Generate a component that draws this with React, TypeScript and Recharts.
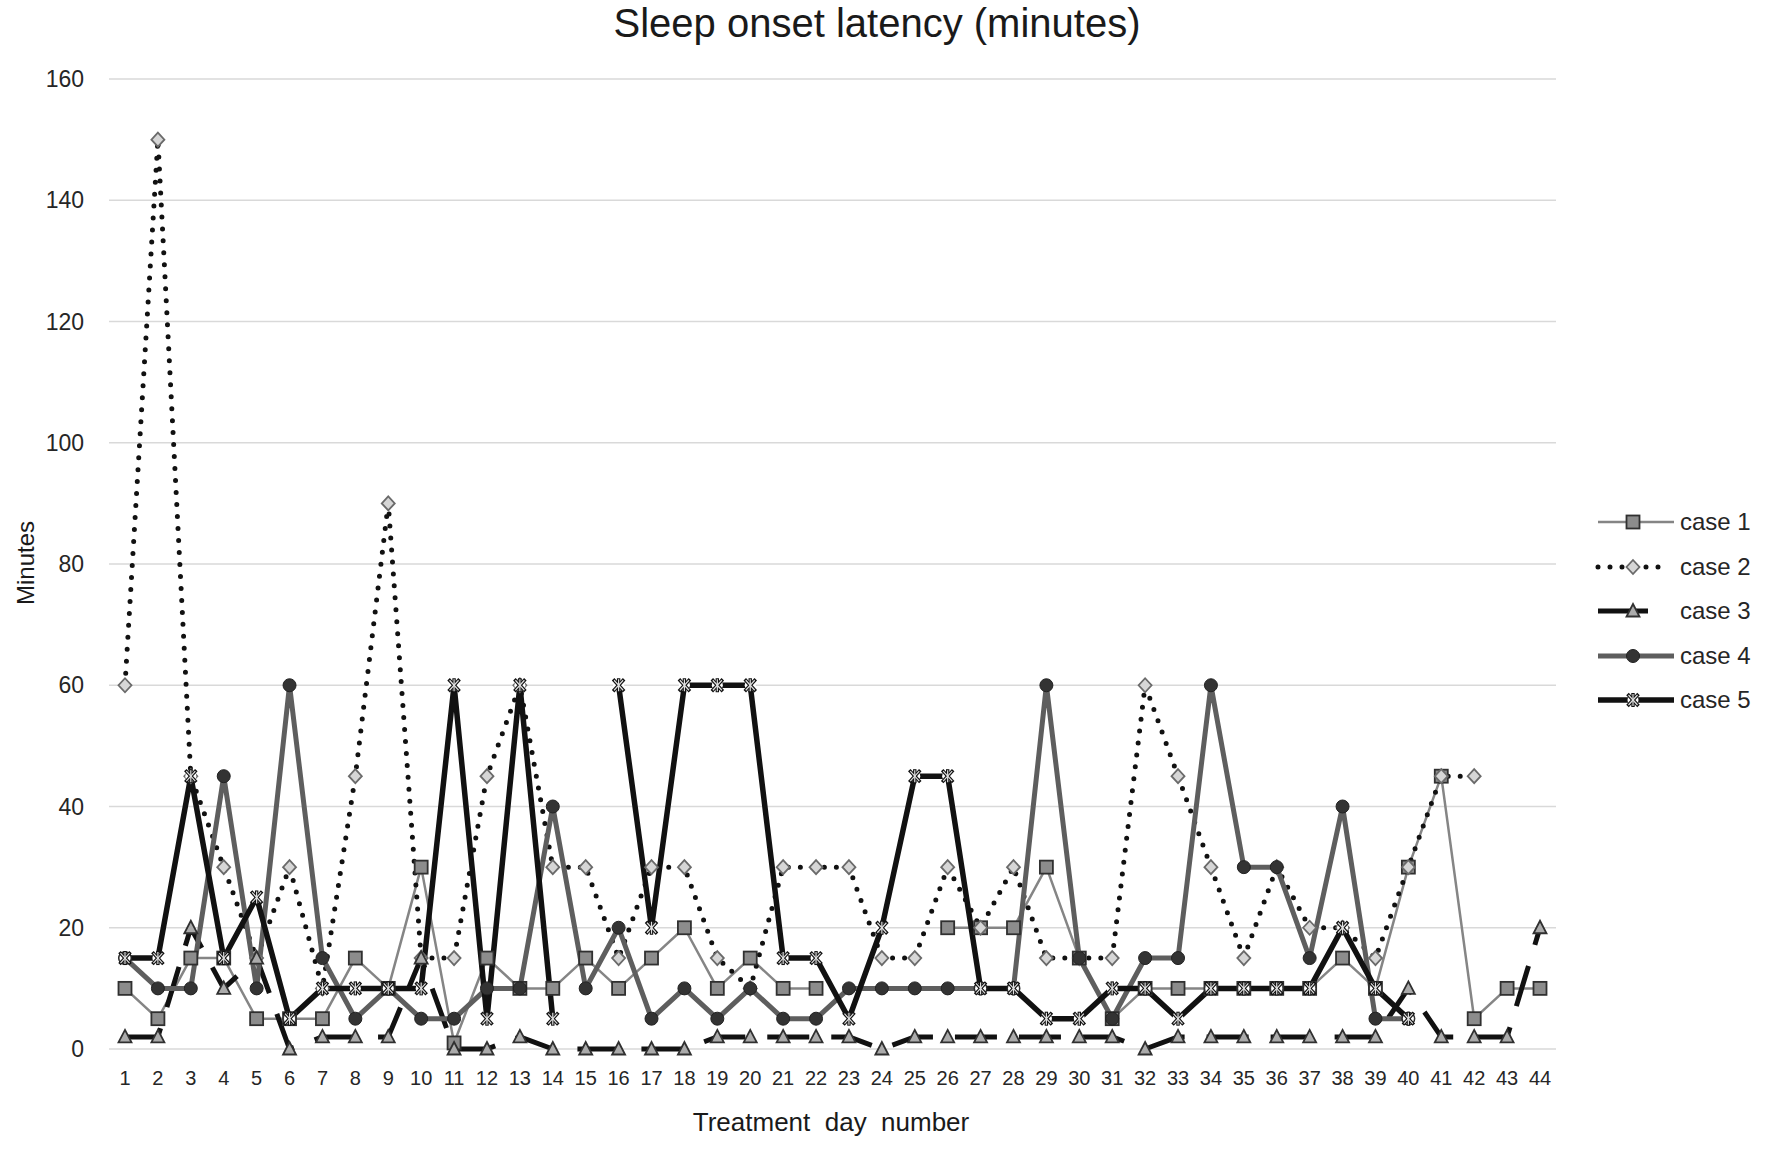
import React from 'react';
import { LineChart, Line, XAxis, YAxis, CartesianGrid, Legend, Customized } from 'recharts';

const FONT = '"Liberation Sans", Arial, sans-serif';

const days = [1, 2, 3, 4, 5, 6, 7, 8, 9, 10, 11, 12, 13, 14, 15, 16, 17, 18, 19, 20, 21, 22, 23, 24, 25, 26, 27, 28, 29, 30, 31, 32, 33, 34, 35, 36, 37, 38, 39, 40, 41, 42, 43, 44];

const case1 = [10, 5, 15, 15, 5, 5, 5, 15, 10, 30, 1, 15, 10, 10, 15, 10, 15, 20, 10, 15, 10, 10, null, null, null, 20, 20, 20, 30, 15, 5, 10, 10, 10, 10, 10, 10, 15, 10, 30, 45, 5, 10, 10];
const case2 = [60, 150, 45, 30, 15, 30, 10, 45, 90, 15, 15, 45, 60, 30, 30, 15, 30, 30, 15, 10, 30, 30, 30, 15, 15, 30, 20, 30, 15, 15, 15, 60, 45, 30, 15, 30, 20, 20, 15, 30, 45, 45, null, null];
const case3 = [2, 2, 20, 10, 15, 0, 2, 2, 2, 15, 0, 0, 2, 0, 0, 0, 0, 0, 2, 2, 2, 2, 2, 0, 2, 2, 2, 2, 2, 2, 2, 0, 2, 2, 2, 2, 2, 2, 2, 10, 2, 2, 2, 20];
const case4 = [15, 10, 10, 45, 10, 60, 15, 5, 10, 5, 5, 10, 10, 40, 10, 20, 5, 10, 5, 10, 5, 5, 10, 10, 10, 10, 10, 10, 60, 15, 5, 15, 15, 60, 30, 30, 15, 40, 5, 5, null, null, null, null];
const case5 = [15, 15, 45, 15, 25, 5, 10, 10, 10, 10, 60, 5, 60, 5, null, 60, 20, 60, 60, 60, 15, 15, 5, 20, 45, 45, 10, 10, 5, 5, 10, 10, 5, 10, 10, 10, 10, 20, 10, 5, null, null, null, null];

const yTicks = [0, 20, 40, 60, 80, 100, 120, 140, 160];

const data = days.map((day, i) => ({
  day,
  case1: case1[i],
  case2: case2[i],
  case3: case3[i],
  case4: case4[i],
  case5: case5[i],
}));

type MarkerKind = 'square' | 'diamond' | 'triangle' | 'circle' | 'star';

const SERIES: {
  key: string;
  name: string;
  stroke: string;
  width: number;
  dash?: string;
  cap?: 'round' | 'butt';
  marker: MarkerKind;
  legendLen: number;
}[] = [
  { key: 'case1', name: 'case 1', stroke: '#858585', width: 2.5, marker: 'square', legendLen: 76 },
  { key: 'case2', name: 'case 2', stroke: '#111', width: 5, dash: '0 12', cap: 'round', marker: 'diamond', legendLen: 70 },
  { key: 'case3', name: 'case 3', stroke: '#111', width: 5, dash: '42 22', marker: 'triangle', legendLen: 50 },
  { key: 'case4', name: 'case 4', stroke: '#5e5e5e', width: 5, marker: 'circle', legendLen: 76 },
  { key: 'case5', name: 'case 5', stroke: '#111', width: 5.5, marker: 'star', legendLen: 76 },
];

function marker(kind: MarkerKind, cx: number, cy: number) {
  switch (kind) {
    case 'square':
      return <rect x={cx - 6.5} y={cy - 6.5} width={13} height={13} fill="#8c8c8c" stroke="#303030" strokeWidth={1.8} />;
    case 'diamond':
      return (
        <path
          d={`M${cx},${cy - 7} L${cx + 6.5},${cy} L${cx},${cy + 7} L${cx - 6.5},${cy} Z`}
          fill="#d6d6d6"
          stroke="#6a6a6a"
          strokeWidth={1.8}
        />
      );
    case 'triangle':
      return (
        <path
          d={`M${cx},${cy - 7} L${cx + 6.5},${cy + 5.5} L${cx - 6.5},${cy + 5.5} Z`}
          fill="#ababab"
          stroke="#303030"
          strokeWidth={1.8}
        />
      );
    case 'circle':
      return <circle cx={cx} cy={cy} r={6.5} fill="#333" stroke="#222" strokeWidth={1} />;
    case 'star':
      return (
        <g>
          <circle cx={cx} cy={cy} r={5.5} fill="#fff" />
          <g stroke="#111" strokeWidth={3.4}>
            <line x1={cx - 5.5} y1={cy - 6} x2={cx + 5.5} y2={cy + 6} />
            <line x1={cx - 5.5} y1={cy + 6} x2={cx + 5.5} y2={cy - 6} />
            <line x1={cx} y1={cy - 7} x2={cx} y2={cy + 7} />
          </g>
          <g stroke="#e0e0e0" strokeWidth={1.2}>
            <line x1={cx - 4.5} y1={cy - 5} x2={cx + 4.5} y2={cy + 5} />
            <line x1={cx - 4.5} y1={cy + 5} x2={cx + 4.5} y2={cy - 5} />
            <line x1={cx} y1={cy - 6} x2={cx} y2={cy + 6} />
          </g>
        </g>
      );
  }
}

function makeDot(kind: MarkerKind) {
  return function Dot(props: any) {
    const { cx, cy, index, value } = props;
    if (cx == null || cy == null || value == null) return <g key={`${kind}-${index}`} />;
    return <g key={`${kind}-${index}`}>{marker(kind, cx, cy)}</g>;
  };
}

function LegendContent() {
  return (
    <div style={{ fontFamily: FONT, fontSize: 24, color: '#262626' }}>
      {SERIES.map((s) => (
        <div key={s.key} style={{ display: 'flex', alignItems: 'center', height: 44.5 }}>
          <svg width={88} height={30} style={{ flex: 'none' }}>
            <line
              x1={8}
              x2={8 + s.legendLen}
              y1={15}
              y2={15}
              stroke={s.stroke}
              strokeWidth={s.width}
              strokeDasharray={s.marker === 'diamond' ? s.dash : undefined}
              strokeLinecap={s.cap}
            />
            {marker(s.marker, 43, 15)}
          </svg>
          <span style={{ marginLeft: 2, whiteSpace: 'nowrap' }}>{s.name}</span>
        </div>
      ))}
    </div>
  );
}

function Titles() {
  return (
    <g fontFamily={FONT} fill="#1a1a1a">
      <text x={877} y={37} fontSize={40} textAnchor="middle">
        Sleep onset latency (minutes)
      </text>
      <text x={831} y={1131} fontSize={26} textAnchor="middle" style={{ whiteSpace: 'pre' }}>
        {'Treatment  day  number'}
      </text>
      <text
        x={25}
        y={563}
        fontSize={24}
        textAnchor="middle"
        dominantBaseline="central"
        transform="rotate(-90 25 563)"
      >
        Minutes
      </text>
    </g>
  );
}

export default function App() {
  return (
    <div style={{ position: 'absolute', left: 0, top: 0, width: 1765, height: 1154, background: '#fff' }}>
      <LineChart width={1765} height={1154} data={data} margin={{ top: 79, right: 34, bottom: 45, left: 0 }}>
        <CartesianGrid vertical={false} stroke="#d9d9d9" strokeWidth={1.5} />
        <XAxis
          dataKey="day"
          type="category"
          height={60}
          padding={{ left: 16, right: 16 }}
          axisLine={false}
          tickLine={false}
          tickSize={0}
          tickMargin={22}
          interval={0}
          tick={{ fontSize: 20, fill: '#262626', fontFamily: FONT }}
        />
        <YAxis
          width={109}
          domain={[0, 160]}
          ticks={yTicks}
          axisLine={false}
          tickLine={false}
          tickSize={0}
          tickMargin={25}
          tick={{ fontSize: 23, fill: '#262626', fontFamily: FONT }}
        />
        <Legend
          layout="vertical"
          align="right"
          verticalAlign="middle"
          width={175}
          content={<LegendContent />}
          wrapperStyle={{ left: 1590, right: 'auto', top: 500 }}
        />
        {SERIES.map((s) => (
          <Line
            key={s.key}
            dataKey={s.key}
            name={s.name}
            type="linear"
            stroke={s.stroke}
            strokeWidth={s.width}
            strokeDasharray={s.dash}
            strokeLinecap={s.cap ?? 'butt'}
            strokeLinejoin="round"
            dot={makeDot(s.marker)}
            activeDot={false}
            connectNulls={false}
            isAnimationActive={false}
          />
        ))}
        <Customized component={<Titles />} />
      </LineChart>
    </div>
  );
}
